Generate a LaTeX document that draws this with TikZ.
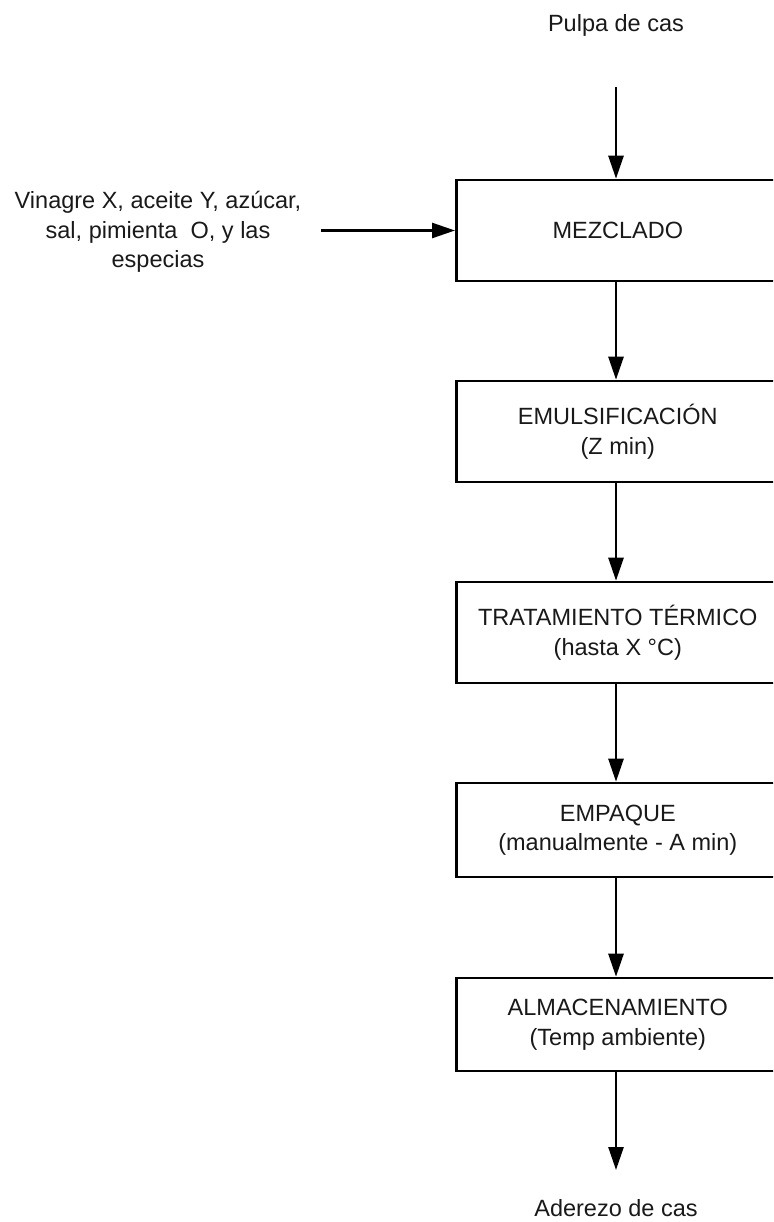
\documentclass[tikz,border=0pt]{standalone}
\usepackage{fontspec}
\setmainfont{Liberation Sans}
\usetikzlibrary{arrows.meta}
% step text is centred in the first 323pt of each box; the box runs on past the page edge
\newcommand\steptext[1]{\parbox{323pt}{\centering #1}\kern23pt}
\begin{document}
\begin{tikzpicture}[x=1pt,y=-1pt,
  every node/.style={font=\fontsize{23.5}{29.5}\selectfont, text=black!90},
  procbox/.style={draw, line width=2.6pt, anchor=west, inner sep=0pt},
  flow/.style={line width=2.6pt, -{Triangle[length=23pt,width=15pt]}}]
  \useasboundingbox (0,0) rectangle (773,1222);
  \clip (0,0) rectangle (773,1222);
  % labels at the ends of the process
  \node (pulpa) at (616,25) {Pulpa de cas};
  \node[align=center] (insumos) at (158,232) {Vinagre X, aceite Y, azúcar,\\sal, pimienta\ \ O, y las\\especias};
  \node (aderezo) at (616,1208) {Aderezo de cas};
  % process steps
  \node[procbox, minimum height=101pt] (mez) at (455,230.5) {\steptext{MEZCLADO}};
  \node[procbox, minimum height=101pt] (emu) at (455,431.5) {\steptext{EMULSIFICACIÓN\\(Z min)}};
  \node[procbox, minimum height=101pt] (tra) at (455,632.5) {\steptext{TRATAMIENTO TÉRMICO\\(hasta X °C)}};
  \node[procbox, minimum height=94pt] (emp) at (455,830) {\steptext{EMPAQUE\\(manualmente - A min)}};
  \node[procbox, minimum height=93pt] (alm) at (455,1024.5) {\steptext{ALMACENAMIENTO\\(Temp ambiente)}};
  % free ends of the connectors
  \coordinate (pin) at (616,87);
  \coordinate (iin) at (321,230.5);
  \coordinate (pout) at (616,1170);
  % connectors
  \draw[flow] (pin) -- (mez.north -| pin);
  \draw[flow] (iin) -- (mez.west |- iin);
  \draw[flow] (mez.south -| pin) -- (emu.north -| pin);
  \draw[flow] (emu.south -| pin) -- (tra.north -| pin);
  \draw[flow] (tra.south -| pin) -- (emp.north -| pin);
  \draw[flow] (emp.south -| pin) -- (alm.north -| pin);
  \draw[flow] (alm.south -| pin) -- (pout);
\end{tikzpicture}
\end{document}
